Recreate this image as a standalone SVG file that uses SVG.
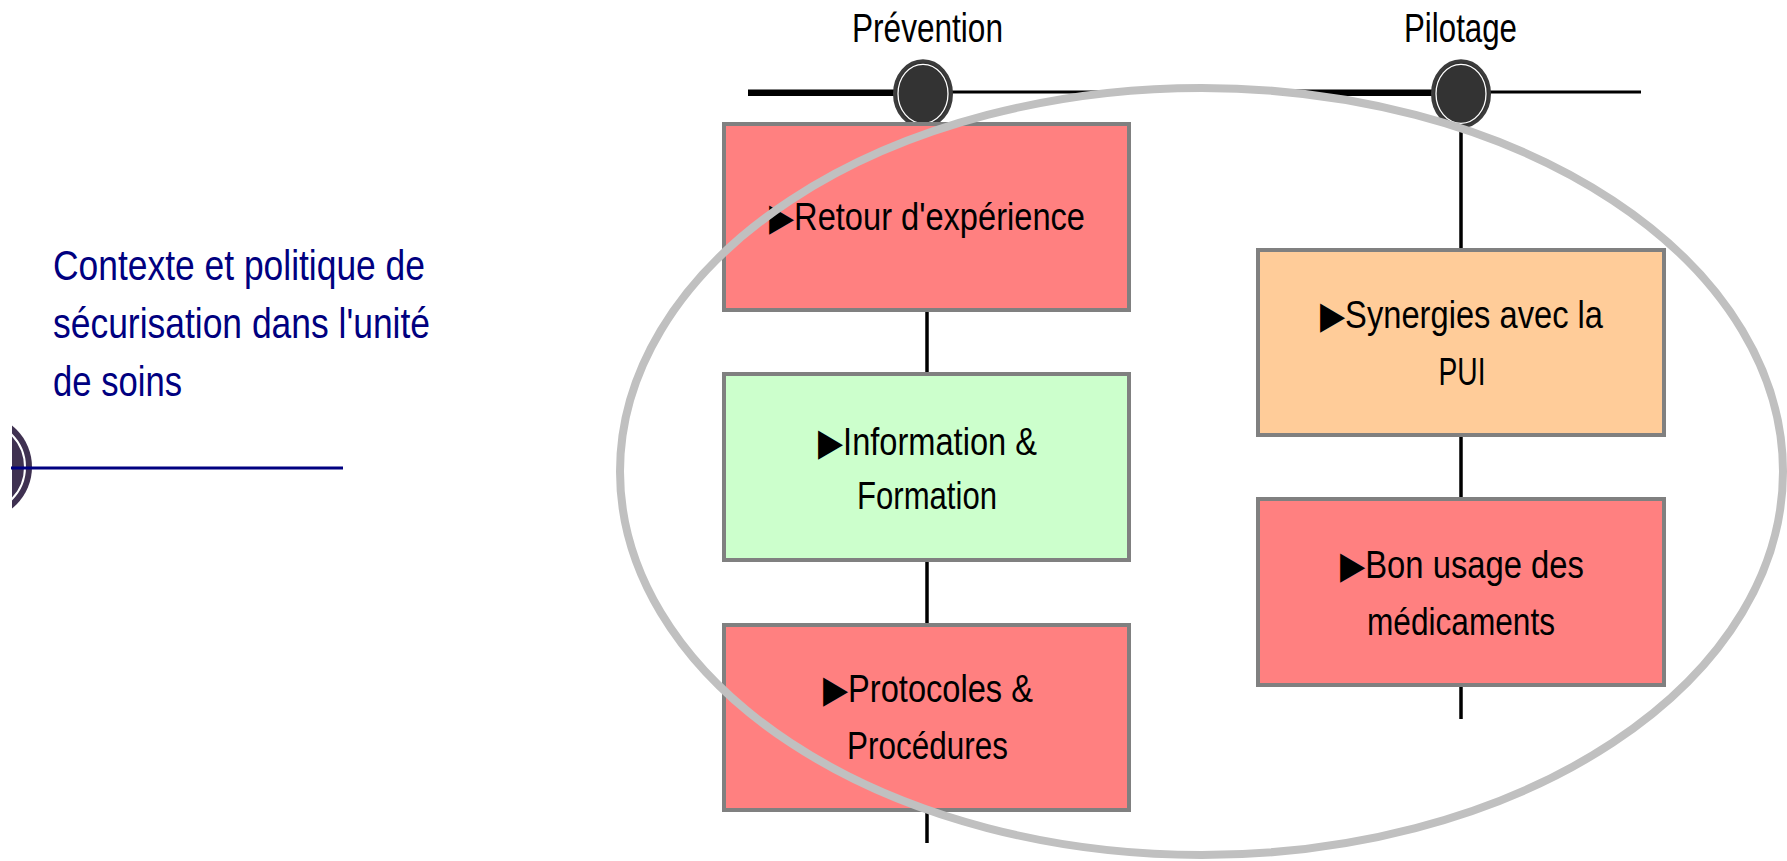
<svg xmlns="http://www.w3.org/2000/svg" width="1787" height="861" viewBox="0 0 1787 861">
<defs>
<style>
.t{font-family:"Liberation Sans Narrow","Arial Narrow","Liberation Sans","DejaVu Sans",Arial,sans-serif;font-size:38px;fill:#000;text-anchor:middle}
.h{font-family:"Liberation Sans Narrow","Arial Narrow","Liberation Sans",Arial,sans-serif;font-size:40px;fill:#000;text-anchor:middle}
.c{font-family:"Liberation Sans Narrow","Arial Narrow","Liberation Sans",Arial,sans-serif;font-size:42px;fill:#000080}
.box{stroke:#808080;stroke-width:4}
.red{fill:#FF8080}
.green{fill:#CCFFCC}
.orange{fill:#FFCC99}
.vl{stroke:#000;stroke-width:3.5;fill:none}
.thick{stroke:#000;stroke-width:6.5}
.thin{stroke:#000;stroke-width:3}
.knob{fill:#333333;stroke:#3c3c3c;stroke-width:3}
.ring{fill:none;stroke:#fff;stroke-width:1.3}
</style>
<clipPath id="lc"><rect x="12" y="400" width="120" height="140"/></clipPath>
</defs>
<rect width="1787" height="861" fill="#fff"/>

<g id="connectors">
<line class="thick" x1="748" y1="92.7" x2="923" y2="92.7"/>
<line class="thin" x1="923" y1="92" x2="1107" y2="92"/>
<line class="thick" x1="1282" y1="92.7" x2="1461" y2="92.7"/>
<line class="thin" x1="1461" y1="92" x2="1641" y2="92"/>
<line class="vl" x1="927" y1="93" x2="927" y2="843"/>
<line class="vl" x1="1461" y1="93" x2="1461" y2="719"/>
</g>

<g id="context">
<g clip-path="url(#lc)">
<circle cx="-21" cy="467" r="53" fill="#3F3151"/>
<circle cx="-21" cy="467" r="46" fill="none" stroke="#fff" stroke-width="2"/>
</g>
<line x1="11" y1="468" x2="343" y2="468" stroke="#000080" stroke-width="3"/>
<text class="c" x="53" y="280" textLength="372" lengthAdjust="spacingAndGlyphs">Contexte et politique de</text>
<text class="c" x="53" y="338" textLength="377" lengthAdjust="spacingAndGlyphs">sécurisation dans l'unité</text>
<text class="c" x="53" y="396" textLength="129" lengthAdjust="spacingAndGlyphs">de soins</text>
</g>

<g id="prevention">
<ellipse class="knob" cx="923" cy="93.8" rx="28.5" ry="33"/>
<ellipse class="ring" cx="923" cy="93.8" rx="25" ry="29.5"/>
<text class="h" x="927.5" y="42" textLength="151" lengthAdjust="spacingAndGlyphs">Prévention</text>
</g>

<g id="pilotage">
<ellipse class="knob" cx="1461" cy="93.8" rx="28.5" ry="33"/>
<ellipse class="ring" cx="1461" cy="93.8" rx="25" ry="29.5"/>
<text class="h" x="1460.5" y="42" textLength="113" lengthAdjust="spacingAndGlyphs">Pilotage</text>
</g>

<g id="retour">
<rect class="box red" x="724" y="124" width="405" height="186"/>
<text class="t" x="927" y="230" textLength="316" lengthAdjust="spacingAndGlyphs">▶Retour d'expérience</text>
</g>

<g id="information">
<rect class="box green" x="724" y="374" width="405" height="186"/>
<text class="t" x="927.5" y="455" textLength="219" lengthAdjust="spacingAndGlyphs">▶Information &amp;</text>
<text class="t" x="927" y="509" textLength="140" lengthAdjust="spacingAndGlyphs">Formation</text>
</g>

<g id="protocoles">
<rect class="box red" x="724" y="625" width="405" height="185"/>
<text class="t" x="928" y="702" textLength="210" lengthAdjust="spacingAndGlyphs">▶Protocoles &amp;</text>
<text class="t" x="927.5" y="759" textLength="161" lengthAdjust="spacingAndGlyphs">Procédures</text>
</g>

<g id="synergies">
<rect class="box orange" x="1258" y="250" width="406" height="185"/>
<text class="t" x="1461.5" y="328" textLength="283" lengthAdjust="spacingAndGlyphs">▶Synergies avec la</text>
<text class="t" x="1462" y="385" textLength="47" lengthAdjust="spacingAndGlyphs">PUI</text>
</g>

<g id="bonusage">
<rect class="box red" x="1258" y="499" width="406" height="186"/>
<text class="t" x="1462" y="578" textLength="244" lengthAdjust="spacingAndGlyphs">▶Bon usage des</text>
<text class="t" x="1461" y="635" textLength="188" lengthAdjust="spacingAndGlyphs">médicaments</text>
</g>

<g id="scope">
<ellipse cx="1201.5" cy="471.5" rx="581.5" ry="383.5" fill="none" stroke="#C0C0C0" stroke-width="8"/>
</g>
</svg>
